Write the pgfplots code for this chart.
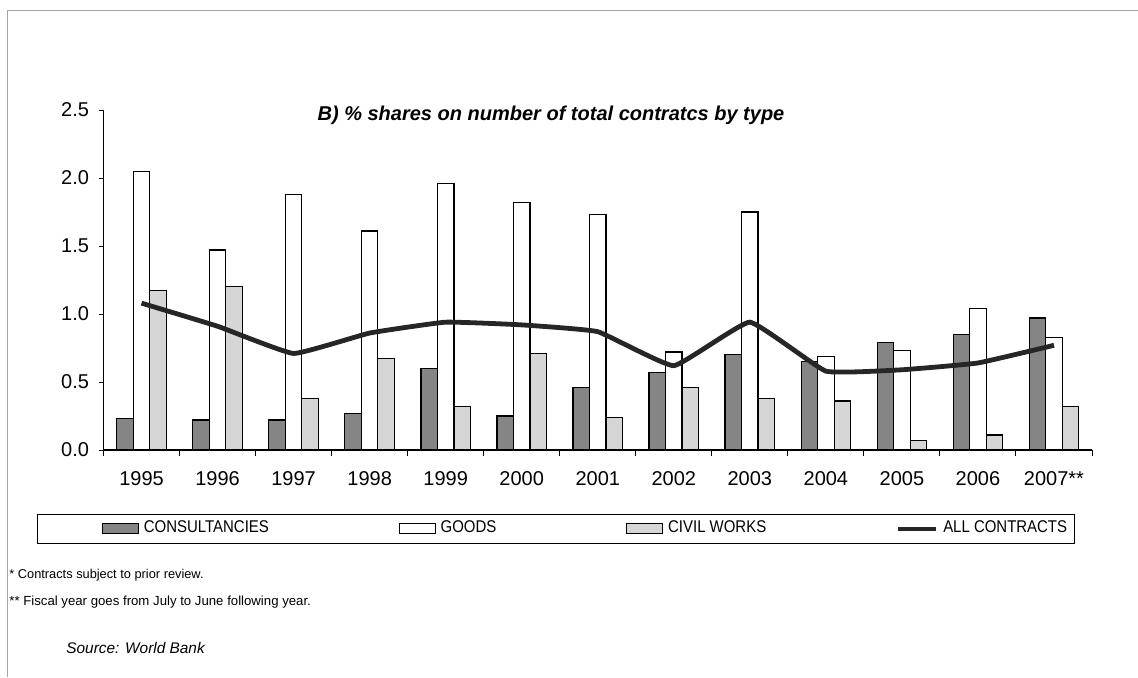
\documentclass[border=0pt]{standalone}
\usepackage{fontspec}
\setmainfont{Liberation Sans}
\newfontfamily\narrowfont{Liberation Sans}[FakeStretch=0.88]
\usepackage{pgfplots}
\usepackage{pgfplotstable}
\pgfplotsset{compat=1.18}
\definecolor{consc}{gray}{0.52}
\definecolor{civc}{gray}{0.84}
\pgfplotstableread{
x cons goods civil all
0  0.23 2.05 1.17 1.08
1  0.22 1.47 1.20 0.91
2  0.22 1.88 0.38 0.71
3  0.27 1.61 0.67 0.86
4  0.60 1.96 0.32 0.94
5  0.25 1.82 0.71 0.92
6  0.46 1.73 0.24 0.87
7  0.57 0.72 0.46 0.62
8  0.70 1.75 0.38 0.94
9  0.65 0.69 0.36 0.58
10 0.79 0.73 0.07 0.59
11 0.85 1.04 0.11 0.64
12 0.97 0.83 0.32 0.77
}\datatable
\begin{document}
\begin{tikzpicture}[x=1pt,y=1pt]
\path[use as bounding box] (0,0) rectangle (569,338.5);
\draw[gray!70, line width=0.5pt] (3.5,0) -- (3.5,333.5) -- (569,333.5);
\begin{axis}[
  at={(51.75pt,113.5pt)}, anchor=south west,
  scale only axis, width=494.25pt, height=170pt,
  xmin=-0.5, xmax=12.5, ymin=0, ymax=2.5,
  axis lines=left, axis line style={-, line width=0.6pt},
  xtick={0,...,12},
  xticklabels={1995,1996,1997,1998,1999,2000,2001,2002,2003,2004,2005,2006,2007**},
  major x tick style={draw=none},
  minor xtick={-0.5,0.5,...,12.5},
  minor tick length=3pt, major tick length=2.5pt,
  tick align=outside,
  tick style={line width=0.5pt, black},
  ytick={0,0.5,...,2.5},
  /pgf/number format/fixed, /pgf/number format/fixed zerofill,
  /pgf/number format/precision=1, /pgf/number format/assume math mode=true,
  ticklabel style={font=\fontsize{10}{12}\selectfont},
  yticklabel style={xshift=-1.2pt},
  xticklabel style={yshift=-4.5pt},
  legend style={at={(-0.0018,-0.2309)}, anchor=west, draw=none, fill=none,
    inner sep=0pt, font=\narrowfont\fontsize{8.5}{9}\selectfont,
    /tikz/every even column/.append style={column sep=63pt},
    /tikz/every odd column/.append style={column sep=0.5pt}},
  legend columns=4,
  legend cell align=left,
]
\addplot[ybar, bar width=8.25pt, bar shift=-8.25pt, fill=consc, draw=black, line width=0.6pt,
  legend image code/.code={\draw[fill=consc, draw=black, line width=0.4pt] (0pt,-2.6pt) rectangle (18pt,2.6pt);}]
  table[x=x, y=cons] {\datatable};
\addlegendentry{CONSULTANCIES}
\addplot[ybar, bar width=8.25pt, bar shift=0pt, fill=white, draw=black, line width=0.6pt,
  legend image code/.code={\draw[fill=white, draw=black, line width=0.4pt] (0pt,-2.6pt) rectangle (18pt,2.6pt);}]
  table[x=x, y=goods] {\datatable};
\addlegendentry{GOODS}
\addplot[ybar, bar width=8.25pt, bar shift=8.25pt, fill=civc, draw=black, line width=0.6pt,
  legend image code/.code={\draw[fill=civc, draw=black, line width=0.4pt] (0pt,-2.6pt) rectangle (18pt,2.6pt);}]
  table[x=x, y=civil] {\datatable};
\addlegendentry{CIVIL WORKS}
\addplot[smooth, tension=0.2, draw=black!85, line width=2.4pt, mark=none,
  legend image code/.code={\draw[draw=black!85, line width=2pt] (0pt,0pt) -- (19pt,0pt);}]
  table[x=x, y=all] {\datatable};
\addlegendentry{ALL CONTRACTS}
\end{axis}
\node[font=\bfseries\itshape\fontsize{10}{12}\selectfont] at (275.5,281) {B) \% shares on number of total contratcs by type};
\draw[line width=0.5pt] (18.5,67) rectangle (537,81.5);
\node[anchor=west, inner sep=0pt, font=\fontsize{6.4}{7}\selectfont] at (4.5,51) {* Contracts subject to prior review.};
\node[anchor=west, inner sep=0pt, font=\fontsize{6.6}{7}\selectfont] at (4.5,37.5) {** Fiscal year goes from July to June following year.};
\node[anchor=west, inner sep=0pt, font=\itshape\fontsize{7.7}{8}\selectfont] at (33,14.5) {Source: World Bank};
\end{tikzpicture}
\end{document}
